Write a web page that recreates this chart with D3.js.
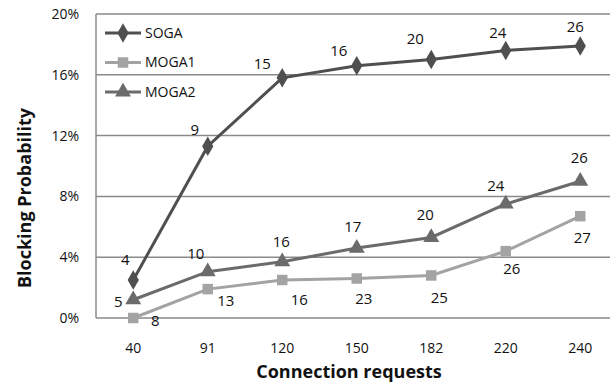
<!DOCTYPE html>
<html><head><meta charset="utf-8">
<script src="https://cdn.jsdelivr.net/npm/d3@7"></script>
<style>body{margin:0;background:#fff}svg{display:block}text{font-family:"Open Sans",Lato,sans-serif}</style>
</head><body><svg id="c" width="610" height="385"></svg>
<script>
const categories = ["40","91","120","150","182","220","240"];
const seriesNames = ["SOGA","MOGA1","MOGA2"];
const soga  = [2.5, 11.3, 15.8, 16.6, 17.0, 17.6, 17.9];
const moga1 = [0.0, 1.9, 2.5, 2.6, 2.8, 4.4, 6.7];
const moga2 = [1.2, 3.05, 3.7, 4.6, 5.3, 7.5, 9.0];
const sogaLabels  = ["4","9","15","16","20","24","26"];
const moga1Labels = ["8","13","16","23","25","26","27"];
const moga2Labels = ["5","10","16","17","20","24","26"];
const yTicks = [0,4,8,12,16,20];

const svg = d3.select("#c");
const pLeft = 96, pTop = 14, pBottom = 318, bandW = 74.5;
const x = d3.scaleBand().domain(categories).range([pLeft, pLeft + bandW*categories.length]);
const y = d3.scaleLinear().domain([0,20]).range([pBottom, pTop]);

// gridlines
svg.append("g").selectAll("line").data(yTicks).join("line")
  .attr("x1", pLeft).attr("x2", 610).attr("y1", d=>y(d)).attr("y2", d=>y(d))
  .attr("stroke", "#8a8a8a").attr("stroke-width", 1.5);
svg.append("line").attr("x1", pLeft).attr("x2", pLeft).attr("y1", pTop).attr("y2", pBottom)
  .attr("stroke", "#8a8a8a").attr("stroke-width", 1.5);

// y axis labels
const yAxis = d3.axisLeft(y).tickValues(yTicks).tickFormat(d=>d+"%").tickSize(0).tickPadding(17);
const ya = svg.append("g").attr("transform", `translate(${pLeft},0)`).call(yAxis);
ya.select(".domain").remove();
ya.selectAll("text").attr("font-size", 14).attr("fill", "#111").attr("font-family", '"Open Sans",sans-serif');

// x axis labels
const xAxis = d3.axisBottom(x).tickSize(0).tickPadding(25);
const xa = svg.append("g").attr("transform", `translate(0,${pBottom})`).call(xAxis);
xa.select(".domain").remove();
xa.selectAll("text").attr("font-size", 14).attr("fill", "#111").attr("font-family", '"Open Sans",sans-serif');

// titles
svg.append("text").attr("x", 349).attr("y", 378).attr("text-anchor","middle")
  .attr("font-size", 18).attr("font-weight","bold").attr("fill","#111").text("Connection requests");
svg.append("text").attr("transform","translate(31,198) rotate(-90)").attr("text-anchor","middle")
  .attr("font-size", 18).attr("font-weight","bold").attr("fill","#111").text("Blocking Probability");

const series = [
  {name: seriesNames[0], vals: soga,  labels: sogaLabels,  color:"#4f4f4f", shape:"diamond", ldx:[-8,-13,-20,-18,-16,-8,-5], ldy:[-20,-16,-14,-15,-21,-18,-19]},
  {name: seriesNames[1], vals: moga1, labels: moga1Labels, color:"#a3a3a3", shape:"square",  ldx:[22,18,17,7,8,6,2], ldy:[3,12,20,20,22,18,22]},
  {name: seriesNames[2], vals: moga2, labels: moga2Labels, color:"#6b6b6b", shape:"triangle",ldx:[-15,-12,-1,-4,-6,-10,-1], ldy:[2,-18,-20,-21,-23,-18,-23]}
];
const sym = {diamond: d3.symbol().type(d3.symbolDiamond).size(110),
             square: d3.symbol().type(d3.symbolSquare).size(110),
             triangle: d3.symbol().type(d3.symbolTriangle).size(110)};
const line = d3.line().x((d,i)=>x(categories[i])+x.bandwidth()/2).y(d=>y(d));

[1,2,0].forEach(k=>{
  const s = series[k];
  const g = svg.append("g");
  g.append("path").attr("d", line(s.vals)).attr("fill","none").attr("stroke", s.color).attr("stroke-width",3);
  g.selectAll("path.m").data(s.vals).join("path").attr("class","m")
    .attr("d", sym[s.shape]())
    .attr("transform",(d,i)=>`translate(${x(categories[i])+x.bandwidth()/2},${y(d)})`)
    .attr("fill", s.color);
  g.selectAll("text").data(s.vals).join("text")
    .attr("x",(d,i)=>x(categories[i])+x.bandwidth()/2 + s.ldx[i])
    .attr("y",(d,i)=>y(d) + s.ldy[i])
    .attr("text-anchor","middle").attr("dy","0.35em")
    .attr("font-size",15).attr("fill","#111")
    .text((d,i)=>s.labels[i]);
});

// legend
const lg = svg.append("g");
series.forEach((s,i)=>{
  const yy = 33 + i*29.5;
  lg.append("line").attr("x1",105).attr("x2",141).attr("y1",yy).attr("y2",yy).attr("stroke",s.color).attr("stroke-width",3);
  lg.append("path").attr("d", sym[s.shape]()).attr("transform",`translate(123,${yy})`).attr("fill",s.color);
  lg.append("text").attr("x",145).attr("y",yy).attr("dy","0.35em").attr("font-size",14).attr("fill","#111").text(s.name);
});
</script></body></html>
